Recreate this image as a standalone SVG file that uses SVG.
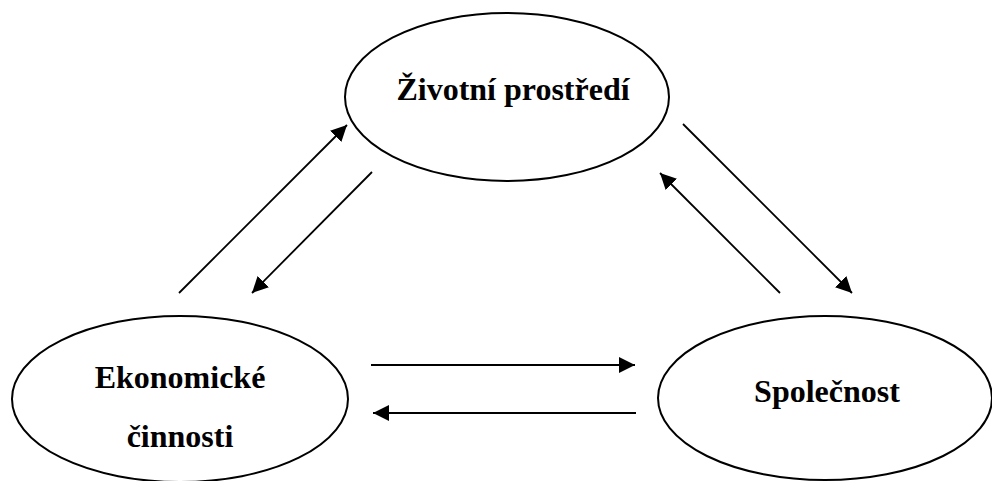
<svg xmlns="http://www.w3.org/2000/svg" width="992" height="481" viewBox="0 0 992 481">
<style>
.node ellipse{fill:#fff;stroke:#000;stroke-width:2}
.node text{font-family:"Liberation Serif","Times New Roman",serif;font-weight:bold;font-size:32px;fill:#000;text-anchor:middle}
.conn line{stroke:#000;stroke-width:1.8;marker-end:url(#ah)}
</style>
<defs>
<marker id="ah" markerUnits="userSpaceOnUse" markerWidth="17" markerHeight="16" refX="16" refY="8" orient="auto">
<path d="M0,0 L16,8 L0,16 Z" fill="#000"/>
</marker>
</defs>
<rect width="992" height="481" fill="#fff"/>
<g id="zivotni-prostredi" class="node">
<ellipse cx="507" cy="97" rx="162" ry="84"/>
<text x="513" y="100">Životní prostředí</text>
</g>
<g id="ekonomicke-cinnosti" class="node">
<ellipse cx="180" cy="399" rx="168" ry="83"/>
<text x="180" y="388">Ekonomické</text>
<text x="180" y="447">činnosti</text>
</g>
<g id="spolecnost" class="node">
<ellipse cx="825" cy="398" rx="167" ry="82"/>
<text x="827" y="402">Společnost</text>
</g>
<g id="connectors" class="conn">
<line x1="179" y1="293" x2="347" y2="125"/>
<line x1="372" y1="172" x2="252" y2="293"/>
<line x1="683" y1="124" x2="852" y2="293"/>
<line x1="780" y1="293" x2="660" y2="173"/>
<line x1="371" y1="365" x2="635" y2="365"/>
<line x1="636" y1="413" x2="373" y2="413"/>
</g>
</svg>
